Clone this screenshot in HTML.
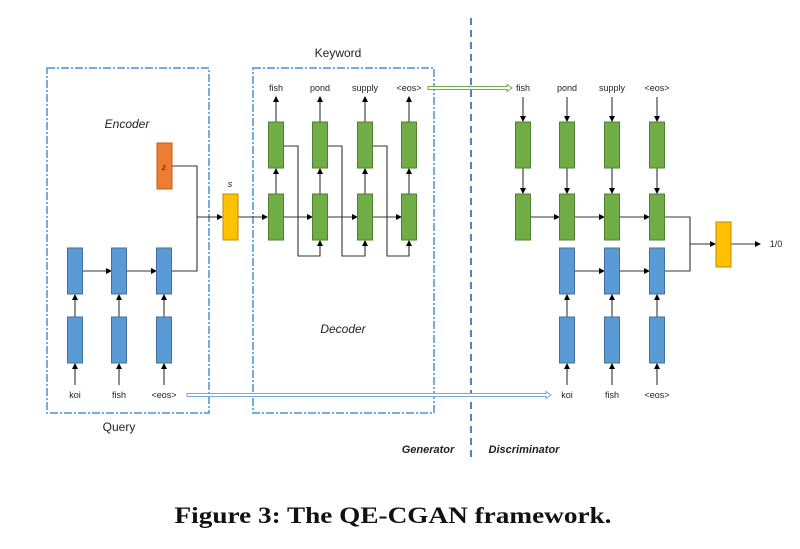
<!DOCTYPE html>
<html><head><meta charset="utf-8"><style>
html,body{margin:0;padding:0;background:#fff;}
svg{display:block;}
text{font-family:"Liberation Sans",sans-serif;fill:#222;}
</style></head><body>
<svg width="800" height="549" viewBox="0 0 800 549" xmlns="http://www.w3.org/2000/svg">
<defs>
<marker id="a" markerWidth="6" markerHeight="6" refX="5" refY="3" orient="auto" markerUnits="userSpaceOnUse"><path d="M0,0 L6,3 L0,6 z" fill="#000"/></marker>
</defs>
<!-- boxes -->
<g fill="none" stroke="#4a90d9" stroke-width="1.5" stroke-dasharray="8,2,2,2">
<rect x="47" y="68" width="162" height="345"/>
<rect x="253" y="68" width="181" height="345"/>
</g>
<line x1="471" y1="18" x2="471" y2="462" stroke="#4472c4" stroke-width="1.8" stroke-dasharray="7,5"/>
<!-- connectors -->
<g stroke="#333" stroke-width="1.1" fill="none">
<!-- encoder -->
<line x1="75" y1="385" x2="75" y2="364" marker-end="url(#a)"/>
<line x1="119" y1="385" x2="119" y2="364" marker-end="url(#a)"/>
<line x1="164" y1="385" x2="164" y2="364" marker-end="url(#a)"/>
<line x1="75" y1="317" x2="75" y2="295" marker-end="url(#a)"/>
<line x1="119" y1="317" x2="119" y2="295" marker-end="url(#a)"/>
<line x1="164" y1="317" x2="164" y2="295" marker-end="url(#a)"/>
<line x1="82" y1="271" x2="111" y2="271" marker-end="url(#a)"/>
<line x1="126" y1="271" x2="156" y2="271" marker-end="url(#a)"/>
<polyline points="171,271 197,271 197,217"/>
<polyline points="172,166 197,166 197,217 222,217" marker-end="url(#a)"/>
<line x1="238" y1="217" x2="267" y2="217" marker-end="url(#a)"/>
<!-- decoder -->
<line x1="283" y1="217" x2="312" y2="217" marker-end="url(#a)"/>
<line x1="327" y1="217" x2="357" y2="217" marker-end="url(#a)"/>
<line x1="372" y1="217" x2="401" y2="217" marker-end="url(#a)"/>
<line x1="276" y1="194" x2="276" y2="169" marker-end="url(#a)"/>
<line x1="320" y1="194" x2="320" y2="169" marker-end="url(#a)"/>
<line x1="365" y1="194" x2="365" y2="169" marker-end="url(#a)"/>
<line x1="409" y1="194" x2="409" y2="169" marker-end="url(#a)"/>
<line x1="276" y1="122" x2="276" y2="97" marker-end="url(#a)"/>
<line x1="320" y1="122" x2="320" y2="97" marker-end="url(#a)"/>
<line x1="365" y1="122" x2="365" y2="97" marker-end="url(#a)"/>
<line x1="409" y1="122" x2="409" y2="97" marker-end="url(#a)"/>
<polyline points="283,146 298,146 298,256 320,256 320,241" marker-end="url(#a)"/>
<polyline points="327,146 342,146 342,256 365,256 365,241" marker-end="url(#a)"/>
<polyline points="372,146 387,146 387,256 409,256 409,241" marker-end="url(#a)"/>
<!-- discriminator -->
<line x1="523" y1="97" x2="523" y2="121" marker-end="url(#a)"/>
<line x1="567" y1="97" x2="567" y2="121" marker-end="url(#a)"/>
<line x1="612" y1="97" x2="612" y2="121" marker-end="url(#a)"/>
<line x1="657" y1="97" x2="657" y2="121" marker-end="url(#a)"/>
<line x1="523" y1="168" x2="523" y2="193" marker-end="url(#a)"/>
<line x1="567" y1="168" x2="567" y2="193" marker-end="url(#a)"/>
<line x1="612" y1="168" x2="612" y2="193" marker-end="url(#a)"/>
<line x1="657" y1="168" x2="657" y2="193" marker-end="url(#a)"/>
<line x1="530" y1="217" x2="559" y2="217" marker-end="url(#a)"/>
<line x1="575" y1="217" x2="604" y2="217" marker-end="url(#a)"/>
<line x1="620" y1="217" x2="649" y2="217" marker-end="url(#a)"/>
<line x1="575" y1="271" x2="604" y2="271" marker-end="url(#a)"/>
<line x1="620" y1="271" x2="649" y2="271" marker-end="url(#a)"/>
<polyline points="664,217 690,217 690,271 664,271"/>
<line x1="690" y1="244" x2="715" y2="244" marker-end="url(#a)"/>
<line x1="731" y1="244" x2="760" y2="244" marker-end="url(#a)"/>
<line x1="567" y1="385" x2="567" y2="364" marker-end="url(#a)"/>
<line x1="612" y1="385" x2="612" y2="364" marker-end="url(#a)"/>
<line x1="657" y1="385" x2="657" y2="364" marker-end="url(#a)"/>
<line x1="567" y1="317" x2="567" y2="295" marker-end="url(#a)"/>
<line x1="612" y1="317" x2="612" y2="295" marker-end="url(#a)"/>
<line x1="657" y1="317" x2="657" y2="295" marker-end="url(#a)"/>
</g>
<!-- double arrows -->
<path d="M187,393.5 H546 V391.5 L551,395 L546,398.5 V396.5 H187 z" fill="#fff" stroke="#7aa6d8" stroke-width="1"/>
<path d="M428,86.5 H507 V84.5 L512,88 L507,91.5 V89.5 H428 z" fill="#fff" stroke="#70ad47" stroke-width="1"/>
<!-- cells -->
<g fill="#5b9bd5" stroke="#41719c" stroke-width="1">
<rect x="67.5" y="248" width="15" height="46"/><rect x="111.5" y="248" width="15" height="46"/><rect x="156.5" y="248" width="15" height="46"/>
<rect x="67.5" y="317" width="15" height="46"/><rect x="111.5" y="317" width="15" height="46"/><rect x="156.5" y="317" width="15" height="46"/>
<rect x="559.5" y="248" width="15" height="46"/><rect x="604.5" y="248" width="15" height="46"/><rect x="649.5" y="248" width="15" height="46"/>
<rect x="559.5" y="317" width="15" height="46"/><rect x="604.5" y="317" width="15" height="46"/><rect x="649.5" y="317" width="15" height="46"/>
</g>
<g fill="#70ad47" stroke="#507e32" stroke-width="1">
<rect x="268.5" y="122" width="15" height="46"/><rect x="312.5" y="122" width="15" height="46"/><rect x="357.5" y="122" width="15" height="46"/><rect x="401.5" y="122" width="15" height="46"/>
<rect x="268.5" y="194" width="15" height="46"/><rect x="312.5" y="194" width="15" height="46"/><rect x="357.5" y="194" width="15" height="46"/><rect x="401.5" y="194" width="15" height="46"/>
<rect x="515.5" y="122" width="15" height="46"/><rect x="559.5" y="122" width="15" height="46"/><rect x="604.5" y="122" width="15" height="46"/><rect x="649.5" y="122" width="15" height="46"/>
<rect x="515.5" y="194" width="15" height="46"/><rect x="559.5" y="194" width="15" height="46"/><rect x="604.5" y="194" width="15" height="46"/><rect x="649.5" y="194" width="15" height="46"/>
</g>
<rect x="157" y="143" width="15" height="46" fill="#ed7d31" stroke="#c55a11"/>
<rect x="223" y="194" width="15" height="46" fill="#ffc000" stroke="#bc8c00"/>
<rect x="716" y="222" width="15" height="45" fill="#ffc000" stroke="#bc8c00"/>
<!-- labels -->
<g font-size="9" text-anchor="middle">
<text x="276" y="91">fish</text><text x="320" y="91">pond</text><text x="365" y="91">supply</text><text x="409" y="91">&lt;eos&gt;</text>
<text x="523" y="91">fish</text><text x="567" y="91">pond</text><text x="612" y="91">supply</text><text x="657" y="91">&lt;eos&gt;</text>
<text x="75" y="398">koi</text><text x="119" y="398">fish</text><text x="164" y="398">&lt;eos&gt;</text>
<text x="567" y="398">koi</text><text x="612" y="398">fish</text><text x="657" y="398">&lt;eos&gt;</text>
<text x="776" y="247">1/0</text>
<text x="164" y="170" font-style="italic" font-size="8">z</text>
<text x="230" y="187" font-style="italic" font-size="9" fill="#555">s</text>
</g>
<g font-size="12" text-anchor="middle">
<text x="338" y="57">Keyword</text>
<text x="119" y="431">Query</text>
<text x="127" y="128" font-style="italic">Encoder</text>
<text x="343" y="333" font-style="italic">Decoder</text>
</g>
<text x="428" y="453" font-size="11" font-weight="bold" font-style="italic" text-anchor="middle">Generator</text>
<text x="524" y="453" font-size="11" font-weight="bold" font-style="italic" text-anchor="middle">Discriminator</text>
<text x="393" y="523" font-family="Liberation Serif, serif" font-size="23" font-weight="bold" text-anchor="middle" textLength="437" lengthAdjust="spacingAndGlyphs" style="font-family:'Liberation Serif',serif;fill:#111">Figure 3: The QE-CGAN framework.</text>
</svg>
</body></html>
